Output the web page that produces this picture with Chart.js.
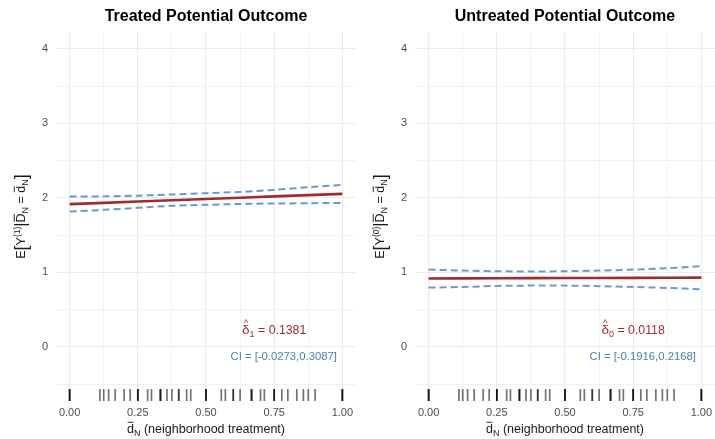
<!DOCTYPE html>
<html>
<head>
<meta charset="utf-8">
<script src="https://cdn.jsdelivr.net/npm/chart.js@4.4.0/dist/chart.umd.min.js"></script>
<style>
  html, body { margin: 0; padding: 0; background: #fff; }
  .panel { position: absolute; top: 0; width: 356px; height: 439px; }
  #left { left: 0; }
  #right { left: 359px; }
</style>
</head>
<body>
<div class="panel" id="left"><canvas id="treated"></canvas></div>
<div class="panel" id="right"><canvas id="untreated"></canvas></div>
<script>
// neighborhood treatment grid where the curves were read
const dGrid = [0, 0.125, 0.25, 0.375, 0.5, 0.625, 0.75, 0.875, 1];

const treatedFit = [1.916, 1.933, 1.951, 1.968, 1.985, 2.002, 2.020, 2.037, 2.054];
const treatedUpper = [2.017, 2.020, 2.030, 2.045, 2.063, 2.080, 2.107, 2.143, 2.174];
const treatedLower = [1.816, 1.839, 1.866, 1.893, 1.906, 1.919, 1.924, 1.928, 1.933];

const untreatedFit = [0.918, 0.920, 0.921, 0.923, 0.924, 0.925, 0.927, 0.928, 0.930];
const untreatedUpper = [1.038, 1.024, 1.016, 1.011, 1.016, 1.024, 1.038, 1.056, 1.083];
const untreatedLower = [0.796, 0.805, 0.819, 0.823, 0.823, 0.815, 0.805, 0.792, 0.774];

// observed neighborhood treatment shares (rug), repeats = overlapping units
const rugValues = [0, 0, 0, 0.111, 0.125, 0.143, 0.167, 0.2, 0.222, 0.25, 0.25, 0.25,
  0.286, 0.3, 0.333, 0.333, 0.333, 0.357, 0.375, 0.4, 0.4, 0.429, 0.444,
  0.5, 0.5, 0.5, 0.556, 0.571, 0.6, 0.6, 0.625, 0.667, 0.667, 0.667, 0.7, 0.714,
  0.75, 0.75, 0.75, 0.778, 0.8, 0.833, 0.857, 0.875, 0.9, 1, 1, 1];

const xTicks = [0, 0.125, 0.25, 0.375, 0.5, 0.625, 0.75, 0.875, 1];
const yTicks = [-0.5, 0, 0.5, 1, 1.5, 2, 2.5, 3, 3.5, 4];

const FONT = "'Liberation Sans', Arial, sans-serif";
const RED = "#a12a2e";
const BLUE = "#6e98cc";
const CI_BLUE = "#4a7ebb";

function drawPieces(ctx, pieces, x, y) {
  let total = 0;
  pieces.forEach(function (p) {
    ctx.font = (p.bold ? "bold " : "") + p.size + "px " + FONT;
    p.w = ctx.measureText(p.t).width;
    total += p.w;
  });
  let cx = x - total / 2;
  pieces.forEach(function (p) {
    ctx.font = (p.bold ? "bold " : "") + p.size + "px " + FONT;
    ctx.fillText(p.t, cx, y + (p.dy || 0));
    if (p.bar) {
      ctx.save();
      ctx.strokeStyle = ctx.fillStyle;
      ctx.lineWidth = 0.9;
      ctx.beginPath();
      ctx.moveTo(cx + 0.5, y - p.size * 0.86);
      ctx.lineTo(cx + p.w - 0.5, y - p.size * 0.86);
      ctx.stroke();
      ctx.restore();
    }
    if (p.hat) {
      ctx.font = (p.size * 0.7) + "px " + FONT;
      const hw = ctx.measureText("^").width;
      ctx.fillText("^", cx + p.w / 2 - hw / 2, y - p.size * 0.62);
    }
    cx += p.w;
  });
}

const panelText = {
  id: "panelText",
  afterDraw(chart, args, opts) {
    const ctx = chart.ctx;
    const a = chart.chartArea;
    const xs = chart.scales.x;
    const ys = chart.scales.y;
    const mid = (a.left + a.right) / 2;
    ctx.save();
    ctx.textAlign = "left";
    ctx.textBaseline = "alphabetic";

    // title
    ctx.fillStyle = "#000";
    drawPieces(ctx, [{ t: opts.title, size: 16, bold: true }], mid, 21);

    // x axis title
    ctx.fillStyle = "#1a1a1a";
    drawPieces(ctx, [
      { t: "d", size: 12.5, bar: true },
      { t: "N", size: 9, dy: 3 },
      { t: " (neighborhood treatment)", size: 12.5 }
    ], mid, 433);

    // y axis title
    ctx.save();
    ctx.translate(25, (a.top + a.bottom) / 2);
    ctx.rotate(-Math.PI / 2);
    drawPieces(ctx, [
      { t: "E", size: 12.5 },
      { t: "[", size: 18, dy: 1.5 },
      { t: "Y", size: 12.5 },
      { t: "(" + opts.sup + ")", size: 8.5, dy: -5 },
      { t: "|", size: 16, dy: 1 },
      { t: "D", size: 12.5, bar: true },
      { t: "N", size: 9, dy: 3 },
      { t: " = ", size: 12.5 },
      { t: "d", size: 12.5, bar: true },
      { t: "N", size: 9, dy: 3 },
      { t: "]", size: 18, dy: 1.5 }
    ], 0, 0);
    ctx.restore();

    // annotations
    ctx.fillStyle = RED;
    drawPieces(ctx, [
      { t: "δ", size: 13.5, hat: true },
      { t: opts.sub, size: 9, dy: 3 },
      { t: " = " + opts.est, size: 12.3 }
    ], xs.getPixelForValue(0.75), ys.getPixelForValue(0.17));
    ctx.fillStyle = CI_BLUE;
    drawPieces(ctx, [{ t: opts.ci, size: 11.3 }], xs.getPixelForValue(0.785), ys.getPixelForValue(-0.17));
    ctx.restore();
  }
};

function toPts(vals) {
  return dGrid.map(function (d, i) { return { x: d, y: vals[i] }; });
}

function makeChart(id, fit, upper, lower, text) {
  return new Chart(document.getElementById(id), {
    type: "scatter",
    data: {
      datasets: [
        {
          data: toPts(fit), showLine: true, borderColor: RED, borderWidth: 2.6,
          pointRadius: 0, order: 0
        },
        {
          data: toPts(upper), showLine: true, borderColor: BLUE, borderWidth: 2,
          borderDash: [7, 4], pointRadius: 0, tension: 0.3, order: 1
        },
        {
          data: toPts(lower), showLine: true, borderColor: BLUE, borderWidth: 2,
          borderDash: [7, 4], pointRadius: 0, tension: 0.3, order: 2
        },
        {
          data: rugValues.map(function (v) { return { x: v, y: -0.645 }; }),
          showLine: false, pointStyle: "line", rotation: 90, pointRadius: 6,
          borderColor: "rgba(0,0,0,0.55)", borderWidth: 1.7, order: 3
        }
      ]
    },
    options: {
      responsive: true,
      maintainAspectRatio: false,
      animation: false,
      layout: { autoPadding: false, padding: { top: 32, left: 0, right: 0, bottom: 0 } },
      plugins: {
        legend: { display: false },
        tooltip: { enabled: false },
        panelText: text
      },
      scales: {
        x: {
          type: "linear", min: -0.05, max: 1.05,
          afterBuildTicks: function (s) { s.ticks = xTicks.map(function (v) { return { value: v }; }); },
          afterFit: function (s) { s.height = 38; s.paddingLeft = 0; s.paddingRight = 0; },
          border: { display: false },
          grid: {
            color: "#ebebeb", drawTicks: false,
            lineWidth: function (c) { return c.tick && c.tick.value % 0.25 === 0 ? 1.1 : 0.6; }
          },
          ticks: {
            padding: 5, color: "#4d4d4d", autoSkip: false, maxRotation: 0,
            font: { family: FONT, size: 11 },
            callback: function (v) { return v % 0.25 === 0 ? v.toFixed(2) : ""; }
          }
        },
        y: {
          type: "linear", min: -0.725, max: 4.225,
          afterBuildTicks: function (s) { s.ticks = yTicks.map(function (v) { return { value: v }; }); },
          afterFit: function (s) { s.width = 56; s.paddingTop = 0; s.paddingBottom = 0; },
          border: { display: false },
          grid: {
            color: "#ebebeb", drawTicks: false,
            lineWidth: function (c) { return c.tick && c.tick.value % 1 === 0 ? 1.1 : 0.6; }
          },
          ticks: {
            padding: 8, color: "#4d4d4d",
            font: { family: FONT, size: 11 },
            callback: function (v) { return v % 1 === 0 ? String(v) : ""; }
          }
        }
      }
    },
    plugins: [panelText]
  });
}

makeChart("treated", treatedFit, treatedUpper, treatedLower,
  { title: "Treated Potential Outcome", sup: "1", sub: "1", est: "0.1381", ci: "CI = [-0.0273,0.3087]" });
makeChart("untreated", untreatedFit, untreatedUpper, untreatedLower,
  { title: "Untreated Potential Outcome", sup: "0", sub: "0", est: "0.0118", ci: "CI = [-0.1916,0.2168]" });
</script>
</body>
</html>
